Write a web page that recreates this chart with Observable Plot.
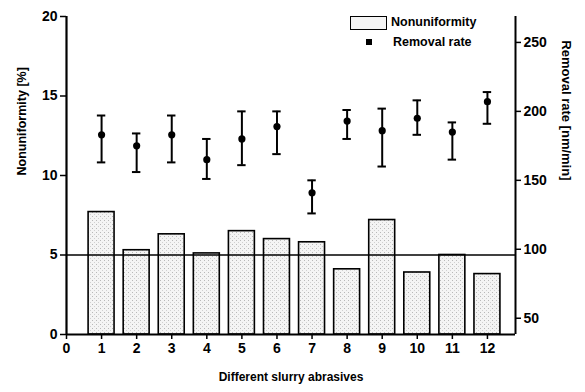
<!DOCTYPE html>
<html>
<head>
<meta charset="utf-8">
<script src="https://cdn.jsdelivr.net/npm/d3@7"></script>
<script src="https://cdn.jsdelivr.net/npm/@observablehq/plot@0.6"></script>
<style>
  html, body { margin: 0; padding: 0; background: #fff; }
  #wrap { position: relative; width: 585px; height: 392px; font-family: "Liberation Sans", Arial, sans-serif; }
  .leg { position: absolute; font-size: 12.5px; font-weight: bold; color: #000; line-height: 1; }
</style>
</head>
<body>
<div id="wrap"></div>
<script>
// ---- data ----
const abrasives = [1, 2, 3, 4, 5, 6, 7, 8, 9, 10, 11, 12];
const nonuniformity = [7.7, 5.3, 6.3, 5.1, 6.5, 6.0, 5.8, 4.1, 7.2, 3.9, 5.0, 3.8];
const removalRate = [183, 175, 183, 165, 180, 189, 141, 193, 186, 195, 185, 207];
const rateLow = [163, 156, 163, 151, 161, 169, 126, 180, 160, 183, 165, 191];
const rateHigh = [197, 184, 197, 180, 200, 200, 150, 201, 202, 208, 192, 214];
const leftTicks = [0, 5, 10, 15, 20];
const rightTicks = [50, 100, 150, 200, 250];
const xTicks = [0, 1, 2, 3, 4, 5, 6, 7, 8, 9, 10, 11, 12];
const referenceLine = [5];

// ---- scales ----
const xDomain = [0, 12.8];
const yDomain = [0, 20];
const rateDomain = [38.2, 268.8];
const toLeft = v => (v - rateDomain[0]) / (rateDomain[1] - rateDomain[0]) * (yDomain[1] - yDomain[0]) + yDomain[0];
const fromLeft = y => (y - yDomain[0]) / (yDomain[1] - yDomain[0]) * (rateDomain[1] - rateDomain[0]) + rateDomain[0];

const bars = abrasives.map((a, i) => ({a, v: nonuniformity[i]}));
const rates = abrasives.map((a, i) => ({a, r: removalRate[i], lo: rateLow[i], hi: rateHigh[i]}));
const halfBar = 0.37, halfCap = 0.12;

const chart = Plot.plot({
  width: 585,
  height: 392,
  marginLeft: 66,
  marginRight: 70,
  marginTop: 16,
  marginBottom: 58,
  x: {domain: xDomain},
  y: {domain: yDomain},
  style: {fontFamily: "Liberation Sans, Arial, sans-serif", fontSize: "13px", fontWeight: "bold", background: "#fff", color: "#000"},
  marks: [
    Plot.rectY(bars, {x1: d => d.a - halfBar, x2: d => d.a + halfBar, y1: 0, y2: "v", fill: "url(#stipple)", stroke: "#000", strokeWidth: 1.6}),
    Plot.ruleY(referenceLine, {stroke: "#000", strokeWidth: 1.6}),
    Plot.ruleX(rates, {x: "a", y1: d => toLeft(d.lo), y2: d => toLeft(d.hi), stroke: "#000", strokeWidth: 2}),
    Plot.ruleY(rates, {y: d => toLeft(d.lo), x1: d => d.a - halfCap, x2: d => d.a + halfCap, stroke: "#000", strokeWidth: 2}),
    Plot.ruleY(rates, {y: d => toLeft(d.hi), x1: d => d.a - halfCap, x2: d => d.a + halfCap, stroke: "#000", strokeWidth: 2}),
    Plot.dot(rates, {x: "a", y: d => toLeft(d.r), r: 3.6, fill: "#000", stroke: "none"}),
    Plot.ruleX([xDomain[0]], {stroke: "#000", strokeWidth: 2.2}),
    Plot.ruleX([xDomain[1]], {stroke: "#000", strokeWidth: 2}),
    Plot.ruleY([yDomain[0]], {stroke: "#000", strokeWidth: 2.2}),
    Plot.axisY({anchor: "left", ticks: leftTicks, tickSize: 6, tickPadding: 3, label: null, fontWeight: "bold", fontSize: 14, strokeWidth: 1.5}),
    Plot.axisY({anchor: "right", ticks: rightTicks.map(toLeft), tickFormat: d => Math.round(fromLeft(d)), tickSize: 5, tickPadding: 3, label: null, fontWeight: "bold", fontSize: 14, strokeWidth: 1.5}),
    Plot.axisX({ticks: xTicks, tickSize: 5, tickPadding: 4, label: null, fontWeight: "bold", fontSize: 14, strokeWidth: 1.5}),
    Plot.text(["Nonuniformity [%]"], {frameAnchor: "left", dx: -45, rotate: -90, fontSize: 12.5, fontWeight: "bold"}),
    Plot.text(["Removal rate [nm/min]"], {frameAnchor: "right", dx: 51, dy: 5, rotate: 90, fontSize: 13, fontWeight: "bold"}),
    Plot.text(["Different slurry abrasives"], {frameAnchor: "bottom", dy: 46, fontSize: 12, fontWeight: "bold"})
  ]
});

// stipple pattern for bars
const ns = "http://www.w3.org/2000/svg";
const defs = document.createElementNS(ns, "defs");
defs.innerHTML = `<pattern id="stipple" width="4" height="4" patternUnits="userSpaceOnUse">
  <rect width="4" height="4" fill="#f4f4f4"></rect>
  <rect x="0" y="0" width="1" height="1" fill="#b8b8b8"></rect>
  <rect x="2" y="2" width="1" height="1" fill="#d0d0d0"></rect>
</pattern>`;
chart.insertBefore(defs, chart.firstChild);

const wrap = document.getElementById("wrap");
wrap.appendChild(chart);

// legend
const legendItems = [
  {label: "Nonuniformity", kind: "bar"},
  {label: "Removal rate", kind: "dot"}
];
legendItems.forEach((item, i) => {
  const sw = document.createElement("div");
  sw.className = "leg";
  if (item.kind === "bar") {
    Object.assign(sw.style, {left: "350px", top: "16px", width: "35px", height: "12px", border: "1.3px solid #000", background: "#f4f4f4"});
  } else {
    Object.assign(sw.style, {left: "366px", top: "39px", width: "6px", height: "6px", background: "#000"});
  }
  wrap.appendChild(sw);
  const t = document.createElement("div");
  t.className = "leg";
  t.textContent = item.label;
  Object.assign(t.style, {left: (item.kind === "bar" ? 391 : 393) + "px", top: (item.kind === "bar" ? 16 : 36) + "px"});
  wrap.appendChild(t);
});
</script>
</body>
</html>
